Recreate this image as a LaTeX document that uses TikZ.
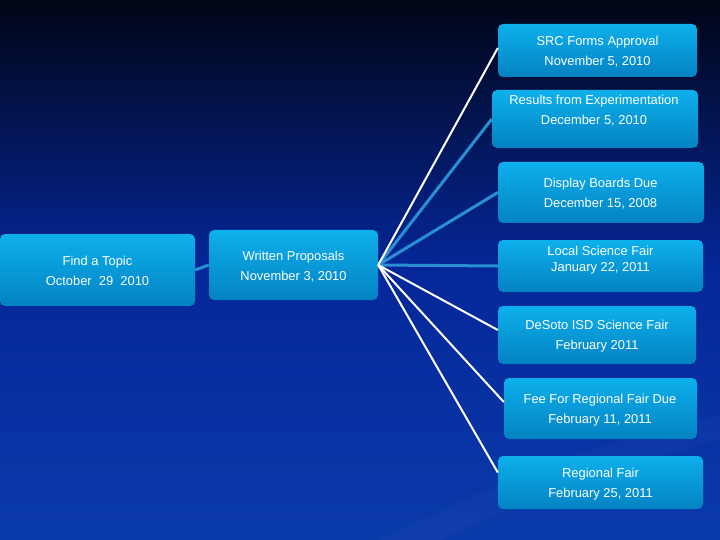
\documentclass[tikz,border=0pt]{standalone}
\usepackage{fontspec}
\setmainfont{Liberation Sans}
\usetikzlibrary{calc}
\definecolor{bgtop}{HTML}{010516}
\definecolor{bgmid}{HTML}{05279A}
\definecolor{bgbot}{HTML}{0A3AAA}
\definecolor{boxtop}{HTML}{0DB0EC}
\definecolor{boxbot}{HTML}{0482C2}
\definecolor{linkblue}{HTML}{2A8FD2}
\begin{document}
\begin{tikzpicture}[x=1pt,y=-1pt]
\tikzset{
  boxshape/.style={rounded corners=5pt, top color=boxtop, bottom color=boxbot, draw=none, inner sep=0pt},
  lbl/.style={text=white, align=center, font=\fontsize{12.9}{20}\selectfont, inner sep=0pt},
  wline/.style={white, line width=2pt},
  bline/.style={linkblue, line width=3pt}
}
% background
\shade[top color=bgtop, bottom color=bgbot, middle color=bgmid] (0,0) rectangle (720,540);
\useasboundingbox (0,0) rectangle (720,540);
\fill[white, opacity=0.025] (380,540) .. controls (520,470) and (640,430) .. (720,415) -- (720,440) .. controls (640,460) and (520,500) .. (440,540) -- cycle;

% boxes
\node[boxshape, minimum width=195pt, minimum height=72pt] (find) at (97.5,270) {};
\node[boxshape, minimum width=169pt, minimum height=70pt] (written) at (293.5,265) {};
\node[boxshape, minimum width=199pt, minimum height=53pt] (src) at (597.5,50.5) {};
\node[boxshape, minimum width=206pt, minimum height=58pt] (results) at (595,119) {};
\node[boxshape, minimum width=206pt, minimum height=61pt] (display) at (601,192.5) {};
\node[boxshape, minimum width=205pt, minimum height=52pt] (local) at (600.5,266) {};
\node[boxshape, minimum width=198pt, minimum height=58pt] (desoto) at (597,335) {};
\node[boxshape, minimum width=193pt, minimum height=61pt] (fee) at (600.5,408.5) {};
\node[boxshape, minimum width=205pt, minimum height=53pt] (regional) at (600.5,482.5) {};

% labels
\node[lbl] (findt) at (97.5,271) {Find a Topic\\October\ \ 29\ \ 2010};
\node[lbl] (writtent) at (293.5,267) {Written Proposals\\November 3, 2010};
\node[lbl] (srct) at (597.5,52) {SRC Forms Approval\\November 5, 2010};
\node[lbl] (resultst) at (594,111) {Results from Experimentation\\December 5, 2010};
\node[lbl] (displayt) at (600.5,194) {Display Boards Due\\December 15, 2008};
\node[lbl] (localt) at (600.5,260) {Local Science Fair\\[-4pt]January 22, 2011};
\node[lbl] (desotot) at (597,336.5) {DeSoto ISD Science Fair\\February 2011};
\node[lbl] (feet) at (600,410.5) {Fee For Regional Fair Due\\February 11, 2011};
\node[lbl] (regionalt) at (600.5,484) {Regional Fair\\February 25, 2011};

% connectors
\draw[bline] (find.east) -- (written.west);
\draw[bline] (written.east) -- (results.west);
\draw[bline] (written.east) -- (display.west);
\draw[bline] (written.east) -- (local.west);
\draw[wline] (written.east) -- ([yshift=2.5pt]src.west);
\draw[wline] (written.east) -- ([yshift=5pt]desoto.west);
\draw[wline] (written.east) -- ([yshift=6.5pt]fee.west);
\draw[wline] (written.east) -- ([yshift=10pt]regional.west);
\end{tikzpicture}
\end{document}
